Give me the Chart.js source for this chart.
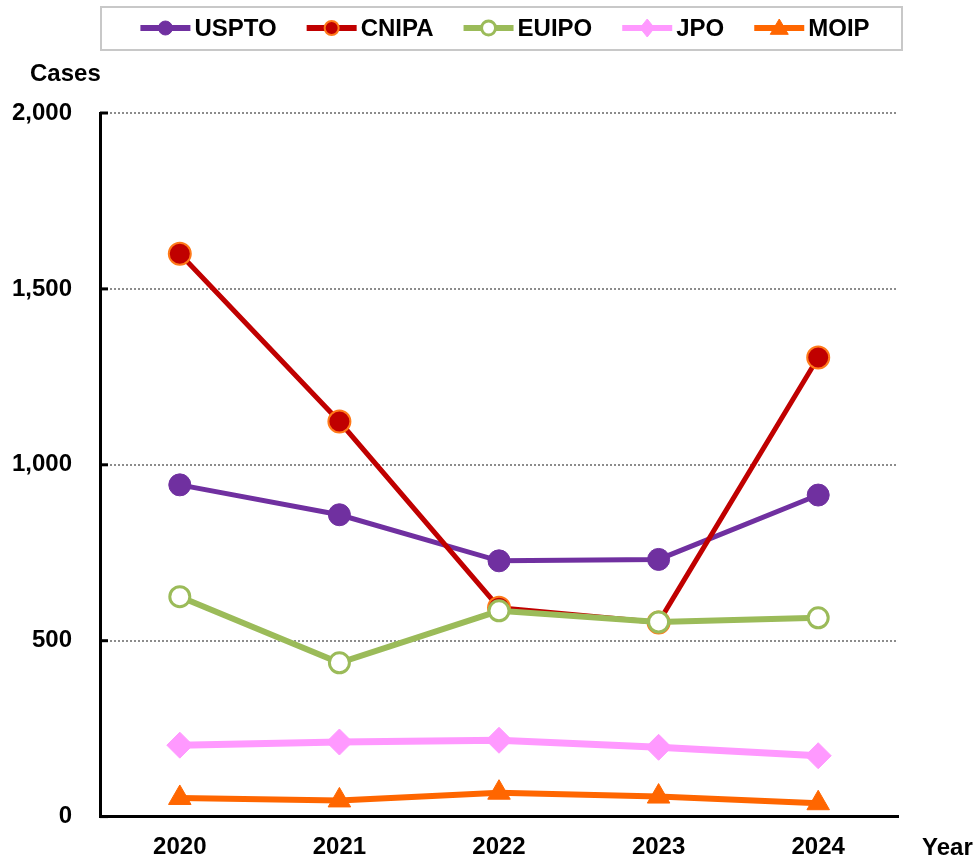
<!DOCTYPE html>
<html>
<head>
<meta charset="utf-8">
<script src="https://cdn.jsdelivr.net/npm/chart.js@4.4.1/dist/chart.umd.min.js"></script>
<style>
    html, body { margin: 0; padding: 0; background: #fff; }
    #wrap { width: 979px; height: 859px; position: relative; }
</style>
</head>
<body>
<div id="wrap"><canvas id="chart"></canvas></div>
<script>
// Data
const years = ['2020', '2021', '2022', '2023', '2024'];
const usptoCases = [943, 858, 727, 731, 914];
const cnipaCases = [1600, 1123, 594, 552, 1305];
const euipoCases = [625, 437, 585, 553, 565];
const jpoCases = [203, 212, 217, 197, 173];
const moipCases = [53, 46, 68, 57, 38];
const yTicks = [0, 500, 1000, 1500, 2000];

const FONT = "'Liberation Sans', Arial, sans-serif";

// Series styling
const series = [
    { label: 'USPTO', data: usptoCases, color: '#7030A0', fill: '#7030A0', edge: '#7030A0', style: 'circle', r: 11, bw: 1, lw: 5 },
    { label: 'CNIPA', data: cnipaCases, color: '#C00000', fill: '#C00000', edge: '#FF7A1A', style: 'circle', r: 11, bw: 2, lw: 5 },
    { label: 'EUIPO', data: euipoCases, color: '#9BBB59', fill: '#FFFFFF', edge: '#9BBB59', style: 'circle', r: 10, bw: 3, lw: 6 },
    { label: 'JPO', data: jpoCases, color: '#FF99FF', fill: '#FF99FF', edge: '#FF99FF', style: 'rectRot', r: 13, bw: 1, lw: 7 },
    { label: 'MOIP', data: moipCases, color: '#FF6600', fill: '#FF6600', edge: '#FF6600', style: 'triangle', r: 13, bw: 1, lw: 6 }
];

// Small marker drawing for the legend
function drawMarker(ctx, s, x, y, r) {
    ctx.save();
    ctx.fillStyle = s.fill;
    ctx.strokeStyle = s.edge;
    ctx.lineWidth = s.bw;
    ctx.beginPath();
    if (s.style === 'circle') {
        ctx.arc(x, y, r, 0, Math.PI * 2);
    } else if (s.style === 'rectRot') {
        ctx.moveTo(x, y - r);
        ctx.lineTo(x + r * 0.8, y);
        ctx.lineTo(x, y + r);
        ctx.lineTo(x - r * 0.8, y);
        ctx.closePath();
    } else {
        ctx.moveTo(x, y - r);
        ctx.lineTo(x + r, y + r * 0.7);
        ctx.lineTo(x - r, y + r * 0.7);
        ctx.closePath();
    }
    ctx.fill();
    ctx.stroke();
    ctx.restore();
}

// Legend box, axis titles and inner tick marks
const decorPlugin = {
    id: 'decor',
    afterDraw(chart) {
        const ctx = chart.ctx;
        const area = chart.chartArea;
        const yScale = chart.scales.y;

        // inner tick marks on the y axis
        ctx.save();
        ctx.strokeStyle = '#000';
        ctx.lineWidth = 3;
        yTicks.forEach(v => {
            const py = yScale.getPixelForValue(v);
            ctx.beginPath();
            ctx.moveTo(area.left, py);
            ctx.lineTo(area.left + 8, py);
            ctx.stroke();
        });
        ctx.restore();

        // axis titles
        ctx.save();
        ctx.fillStyle = '#000';
        ctx.font = 'bold 24px ' + FONT;
        ctx.textBaseline = 'middle';
        ctx.textAlign = 'left';
        ctx.fillText('Cases', 30, 74);
        ctx.fillText('Year', 922, 848);
        ctx.restore();

        // legend box
        ctx.save();
        ctx.strokeStyle = '#C8C8C8';
        ctx.lineWidth = 2;
        ctx.strokeRect(101, 7, 801, 43);
        ctx.font = 'bold 24px ' + FONT;
        ctx.textBaseline = 'middle';
        ctx.textAlign = 'left';
        const lineLen = 50, gap = 4, spacing = 30;
        const widths = series.map(s => lineLen + gap + ctx.measureText(s.label).width);
        const total = widths.reduce((a, b) => a + b, 0) + spacing * (series.length - 1);
        let x = 505 - total / 2;
        const ly = 28;
        series.forEach((s, i) => {
            ctx.strokeStyle = s.color;
            ctx.lineWidth = 6;
            ctx.beginPath();
            ctx.moveTo(x, ly);
            ctx.lineTo(x + lineLen, ly);
            ctx.stroke();
            drawMarker(ctx, s, x + lineLen / 2, ly, s.style === 'circle' ? 7 : 9);
            ctx.fillStyle = '#000';
            ctx.fillText(s.label, x + lineLen + gap, ly + 1);
            x += widths[i] + spacing;
        });
        ctx.restore();
    }
};

const ctx = document.getElementById('chart').getContext('2d');
new Chart(ctx, {
    type: 'line',
    data: {
        labels: years,
        datasets: series.map((s, i) => ({
            label: s.label,
            data: s.data,
            borderColor: s.color,
            borderWidth: s.lw,
            backgroundColor: s.fill,
            pointBackgroundColor: s.fill,
            pointBorderColor: s.edge,
            pointBorderWidth: s.bw,
            pointStyle: s.style,
            pointRadius: s.r,
            pointHoverRadius: s.r,
            tension: 0,
            fill: false,
            order: series.length - i
        }))
    },
    options: {
        responsive: true,
        maintainAspectRatio: false,
        animation: false,
        layout: {
            padding: { top: 113, right: 81, bottom: 0, left: 0 }
        },
        plugins: {
            legend: { display: false },
            tooltip: { enabled: false }
        },
        scales: {
            x: {
                offset: true,
                grid: { display: false, drawTicks: false },
                border: { display: true, color: '#000', width: 3 },
                ticks: {
                    color: '#000',
                    padding: 16,
                    maxRotation: 0,
                    font: { family: FONT, size: 24, weight: 'bold' }
                },
                afterFit(scale) { scale.height = 41; }
            },
            y: {
                min: 0,
                max: 2000,
                grid: {
                    color: '#8C8C8C',
                    lineWidth: 2,
                    drawTicks: false
                },
                border: { display: true, color: '#000', width: 3, dash: [2, 2] },
                ticks: {
                    stepSize: 500,
                    color: '#000',
                    padding: 28,
                    font: { family: FONT, size: 24, weight: 'bold' },
                    callback: v => v.toLocaleString('en-US')
                },
                afterFit(scale) { scale.width = 100; }
            }
        }
    },
    plugins: [decorPlugin]
});
</script>
</body>
</html>
